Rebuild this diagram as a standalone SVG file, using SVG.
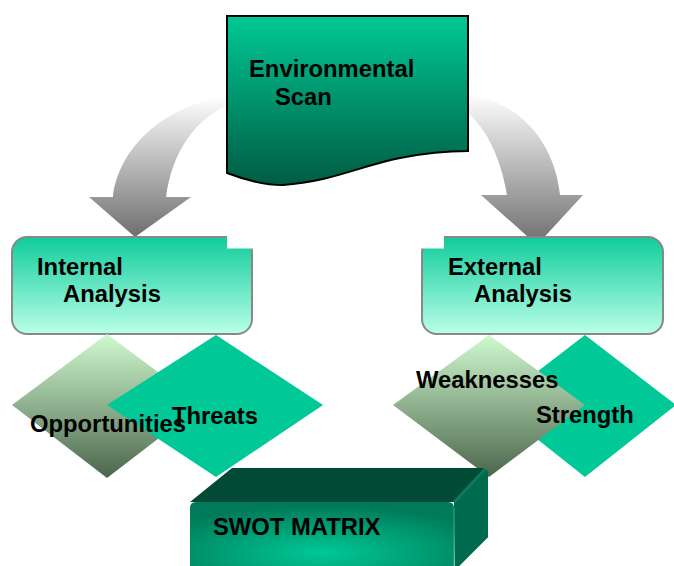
<svg xmlns="http://www.w3.org/2000/svg" width="674" height="566" viewBox="0 0 674 566">
<defs>
<linearGradient id="gArrow" x1="0" y1="0" x2="0" y2="1">
<stop offset="0" stop-color="#ffffff"/>
<stop offset="1" stop-color="#6e6e6e"/>
</linearGradient>
<linearGradient id="gEnv" x1="0" y1="0" x2="0" y2="1">
<stop offset="0" stop-color="#00c996"/>
<stop offset="1" stop-color="#005c42"/>
</linearGradient>
<linearGradient id="gAna" x1="0" y1="0" x2="0" y2="1">
<stop offset="0" stop-color="#10cc9c"/>
<stop offset="1" stop-color="#b9ffe8"/>
</linearGradient>
<linearGradient id="gDia" x1="0" y1="0" x2="0" y2="1">
<stop offset="0" stop-color="#d0fad0"/>
<stop offset="1" stop-color="#4c664c"/>
</linearGradient>
<radialGradient id="gFront" cx="0.5" cy="0.75" r="0.7" fx="0.5" fy="0.75">
<stop offset="0" stop-color="#00c896"/>
<stop offset="1" stop-color="#007a58"/>
</radialGradient>
<style>
.lbl{font-family:"Liberation Sans",Arial,sans-serif;font-weight:bold;font-size:23.8px;fill:#000}
.arrow{fill:url(#gArrow)}
.ana{fill:url(#gAna);stroke:#888;stroke-width:2}
.solid{fill:#00c896}
.grad{fill:url(#gDia)}
</style>
</defs>
<rect width="674" height="566" fill="#fff"/>
<g id="connectors">
<path class="arrow" d="M232,96 C162,104 118,150 113,197 L89,197 L135,237 L191,197 L166,197 C172,152 195,118 232,103 Z"/>
<path class="arrow" d="M462,93 C522,100 555,145 560,195 L583,195 L537,245 L481,195 L507,195 C500,155 485,125 462,108 Z"/>
</g>
<g id="env">
<path d="M227,16 L468,16 L468,151 C440,151 420,154 400,158 C360,166 330,182 283,185 C260,185 240,178 227,173 Z" fill="url(#gEnv)" stroke="#000" stroke-width="2"/>
<text class="lbl" x="249" y="77">Environmental</text>
<text class="lbl" x="275" y="105">Scan</text>
</g>
<g id="internal">
<rect class="ana" x="12" y="237" width="240" height="97" rx="15"/>
<rect x="227" y="235" width="27" height="13.5" fill="#fff"/>
<text class="lbl" x="37" y="275">Internal</text>
<text class="lbl" x="63" y="302">Analysis</text>
</g>
<g id="external">
<rect class="ana" x="422" y="237" width="241" height="97" rx="15"/>
<rect x="420" y="235" width="24" height="13.5" fill="#fff"/>
<text class="lbl" x="448" y="275">External</text>
<text class="lbl" x="474" y="302">Analysis</text>
</g>
<g id="opportunities">
<polygon class="grad" points="107,334 202,405 107,478 12,405"/>
</g>
<g id="threats">
<polygon class="solid" points="216,335 323,405 216,477 107,405"/>
<text class="lbl" x="172" y="424">Threats</text>
</g>
<text class="lbl" x="30" y="432">Opportunities</text>
<g id="strength">
<polygon class="solid" points="585,335 676,405 585,477 494,405"/>
</g>
<g id="weaknesses">
<polygon class="grad" points="489,335 585,405 489,477 393,405"/>
<text class="lbl" x="416" y="388">Weaknesses</text>
</g>
<text class="lbl" x="536" y="423">Strength</text>
<g id="swot">
<path d="M190,502 L232,468 L481,468 Q488,468 488,475 L488,537 L455,570 L454,502 Z" fill="#004a36"/>
<path d="M454,502 L485,469 Q488,471 488,476 L488,537 L455,570 Z" fill="#006a4e"/>
<path d="M454,502 L485,469" stroke="#1a8a6a" stroke-width="3" opacity="0.6"/>
<path d="M190,508 Q190,502 196,502 L448,502 Q454,502 454,508 L454,570 L190,570 Z" fill="url(#gFront)"/>
<line x1="454" y1="508" x2="454" y2="566" stroke="#3aa886" stroke-width="1"/>
<text class="lbl" x="213" y="535">SWOT MATRIX</text>
</g>
</svg>
